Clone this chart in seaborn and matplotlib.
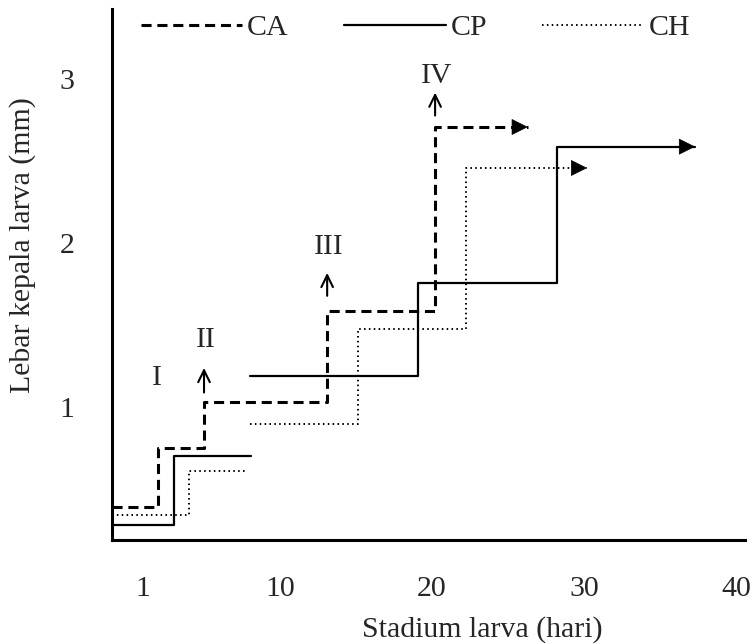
import numpy as np
import pandas as pd
import seaborn as sns
import matplotlib
matplotlib.use('Agg')
from matplotlib import pyplot as plt
from matplotlib.lines import Line2D

# step data: day where each stage starts, head width (mm)
x0 = -1.05
ca_days = [x0, 2, 5, 13.1, 20.2, 26.3]
ca_width = [0.39, 0.75, 1.03, 1.59, 2.71, 2.71]

cp_days_a = [x0, 3, 8.1]
cp_width_a = [0.28, 0.70, 0.70]
cp_days_b = [8.0, 19.1, 28.2, 37.3]
cp_width_b = [1.19, 1.76, 2.59, 2.59]

ch_days_a = [x0, 4, 7.8]
ch_width_a = [0.34, 0.61, 0.61]
ch_days_b = [8.0, 15.1, 22.2, 30.2]
ch_width_b = [0.90, 1.48, 2.46, 2.46]

stage_names = ['I', 'II', 'III', 'IV']
stage_x = [1.9, 5.1, 13.2, 20.3]
stage_y = [1.18, 1.41, 1.98, 3.02]
stage_arrow_x = [None, 5.0, 13.1, 20.2]
stage_arrow_y0 = [None, 1.09, 1.68, 2.78]
stage_arrow_y1 = [None, 1.24, 1.82, 2.92]

x_ticks = [1, 10, 20, 30, 40]
y_ticks = [1, 2, 3]

sns.set_theme(style='white')
plt.rcParams['font.family'] = ['Liberation Serif', 'DejaVu Serif']
fs = 21.5

fig = plt.figure(figsize=(7.52, 6.44), dpi=100)
ax = fig.add_axes([0.149, 0.1615, 0.842, 0.8245])

styles = {
    'CA': dict(color='black', lw=2.2, dashes=(3.3, 1.9)),
    'CP': dict(color='black', lw=1.6, linestyle='-'),
    'CH': dict(color='black', lw=1.4, dashes=(0.8, 1.7)),
}

def step(days, width, key):
    df = pd.DataFrame({'day': days, 'width': width})
    sns.lineplot(data=df, x='day', y='width', ax=ax, drawstyle='steps-post',
                 sort=False, estimator=None, **styles[key])

def head(days, width):
    ax.annotate('', xy=(days[-1], width[-1]), xytext=(days[-1] - 0.05, width[-1]),
                arrowprops=dict(arrowstyle='-|>,head_length=0.4,head_width=0.2',
                                mutation_scale=27, color='black', lw=0.5,
                                shrinkA=0, shrinkB=0))

step(ca_days, ca_width, 'CA')
head(ca_days, ca_width)
step(cp_days_a, cp_width_a, 'CP')
step(cp_days_b, cp_width_b, 'CP')
head(cp_days_b, cp_width_b)
step(ch_days_a, ch_width_a, 'CH')
step(ch_days_b, ch_width_b, 'CH')
head(ch_days_b, ch_width_b)

for name, tx, ty, axx, ay0, ay1 in zip(stage_names, stage_x, stage_y,
                                       stage_arrow_x, stage_arrow_y0, stage_arrow_y1):
    ax.text(tx, ty, name, fontsize=fs, ha='center', va='center')
    if axx is not None:
        ax.annotate('', xy=(axx, ay1), xytext=(axx, ay0),
                    arrowprops=dict(arrowstyle='->,head_length=0.45,head_width=0.22',
                                    mutation_scale=19, color='black', lw=1.5,
                                    shrinkA=0, shrinkB=0))

ax.set_xlim(x0, 40.6)
ax.set_ylim(0.19, 3.43)
ax.set_xticks(x_ticks)
ax.set_xticklabels([str(t) for t in x_ticks])
ax.set_yticks(y_ticks)
ax.set_yticklabels([str(t) for t in y_ticks])
ax.tick_params(axis='x', length=0, pad=26, labelsize=fs)
ax.tick_params(axis='y', length=0, pad=27, labelsize=fs)

for side in ['top', 'right']:
    ax.spines[side].set_visible(False)
for side in ['left', 'bottom']:
    ax.spines[side].set_linewidth(2.2)
    ax.spines[side].set_color('black')

ax.set_xlabel('Stadium larva (hari)', fontsize=fs)
ax.xaxis.set_label_coords(0.585, -0.143)
ax.set_ylabel('Lebar kepala larva (mm)', fontsize=fs)
ax.yaxis.set_label_coords(-0.12, 0.556)

handles = [Line2D([], [], **styles[k]) for k in ['CA', 'CP', 'CH']]
ax.legend(handles, ['CA', 'CP', 'CH'], ncol=3, frameon=False, fontsize=fs,
          loc='center left', bbox_to_anchor=(0.045, 0.965), borderaxespad=0,
          borderpad=0, handlelength=3.4, handletextpad=0.17, columnspacing=1.85)

fig.savefig('out.png', dpi=100)
